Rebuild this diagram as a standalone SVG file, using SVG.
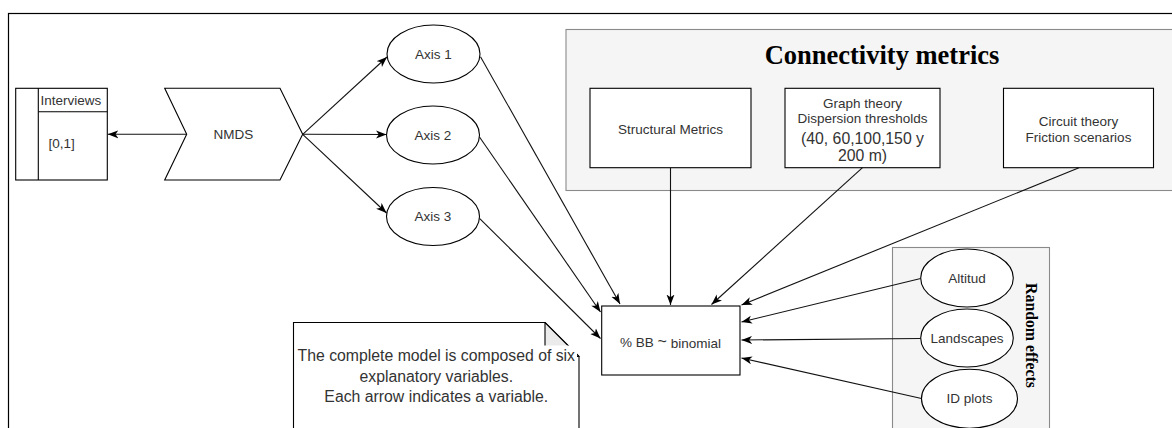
<svg xmlns="http://www.w3.org/2000/svg" width="1172" height="428" viewBox="0 0 1172 428">
<defs>
<marker id="arr" markerUnits="userSpaceOnUse" markerWidth="11" markerHeight="9" viewBox="0 0 11 9" refX="10.5" refY="4.5" orient="auto">
<path d="M0,0.5 L10.5,4.5 L0,8.5 L2.8,4.5 Z" fill="#000"/>
</marker>
<style>
.sh{fill:#fff;stroke:#000;stroke-width:1.1}
.grp{fill:#f5f5f5;stroke:#8a8a8a;stroke-width:1.1}
.t{font-family:"Liberation Sans",Arial,sans-serif;font-size:13.5px;fill:#333;text-anchor:middle;dominant-baseline:central}
.tl{font-size:15.8px}
.ser{font-family:"Liberation Serif","Times New Roman",serif;font-weight:bold;fill:#000;text-anchor:middle;dominant-baseline:central}
.c{fill:none;stroke:#111;stroke-width:1.1;marker-end:url(#arr)}
</style>
</defs>
<rect x="8.5" y="13.5" width="1200" height="500" fill="#fff" stroke="#000" stroke-width="1.2"/>

<g id="connectivity-group">
<rect class="grp" x="566" y="29.5" width="640" height="161"/>
<text class="ser" x="882" y="55" font-size="26.5">Connectivity metrics</text>
</g>
<g id="random-group">
<rect class="grp" x="892.5" y="247.5" width="157" height="200"/>
<text class="ser" font-size="15.8" transform="translate(1031.5,335.5) rotate(90)" x="0" y="0">Random effects</text>
</g>

<g id="interviews">
<rect class="sh" x="15.7" y="88.3" width="91.6" height="91.7"/>
<line x1="38.3" y1="88.3" x2="38.3" y2="180" stroke="#000" stroke-width="1.1"/>
<line x1="38.3" y1="111.7" x2="107.3" y2="111.7" stroke="#000" stroke-width="1.1"/>
<text class="t" x="40.5" y="100.5" style="text-anchor:start">Interviews</text>
<text class="t" x="48.5" y="143" style="text-anchor:start">[0,1]</text>
</g>

<g id="nmds">
<path class="sh" d="M164.7,88.3 L280,88.3 L302.7,134.3 L280,180 L164.7,180 L186.7,134.3 Z"/>
<text class="t" x="233.3" y="134.3">NMDS</text>
</g>

<g id="axis1"><ellipse class="sh" cx="433.5" cy="54" rx="46.5" ry="29"/><text class="t" x="433.5" y="54">Axis 1</text></g>
<g id="axis2"><ellipse class="sh" cx="433" cy="135" rx="46.5" ry="29"/><text class="t" x="433" y="135">Axis 2</text></g>
<g id="axis3"><ellipse class="sh" cx="433" cy="216.5" rx="46.5" ry="29"/><text class="t" x="433" y="216.5">Axis 3</text></g>

<g id="structural">
<rect class="sh" x="590" y="88.3" width="161" height="79.4"/>
<text class="t" x="670.5" y="129.3">Structural Metrics</text>
</g>
<g id="graph-theory">
<rect class="sh" x="785" y="88.3" width="155" height="79.4"/>
<text class="t" x="862.5" y="103.3">Graph theory</text>
<text class="t" x="862.5" y="118.3">Dispersion thresholds</text>
<text class="t tl" x="862.5" y="138.5">(40, 60,100,150 y</text>
<text class="t tl" x="862.5" y="155.5">200 m)</text>
</g>
<g id="circuit-theory">
<rect class="sh" x="1003.5" y="88.3" width="150" height="79.4"/>
<text class="t" x="1078.5" y="121.7">Circuit theory</text>
<text class="t" x="1078.5" y="137.3">Friction scenarios</text>
</g>

<g id="model">
<rect class="sh" x="601.7" y="306" width="138.3" height="69"/>
<text class="t" x="670.5" y="342.7">% BB <tspan font-size="16" dy="-1.5">~</tspan><tspan dy="1.5"> binomial</tspan></text>
</g>

<g id="note">
<path class="sh" d="M293.5,322.5 H545 L579,356.5 V445 H293.5 Z"/>
<path d="M545,322.5 V356.5 H579 Z" fill="#ebebeb" stroke="#000" stroke-width="1.1" stroke-linejoin="round"/>
<rect x="295" y="345.5" width="282" height="60" fill="#fff"/>
<text class="t tl" x="436.3" y="355">The complete model is composed of six</text>
<text class="t tl" x="436.3" y="376">explanatory variables.</text>
<text class="t tl" x="436.3" y="396">Each arrow indicates a variable.</text>
</g>

<g id="altitud"><ellipse class="sh" cx="967" cy="278" rx="46.3" ry="29"/><text class="t" x="967" y="278">Altitud</text></g>
<g id="landscapes"><ellipse class="sh" cx="967" cy="338" rx="46.3" ry="29"/><text class="t" x="967" y="338">Landscapes</text></g>
<g id="id-plots"><ellipse class="sh" cx="969.5" cy="398.7" rx="48" ry="29.5"/><text class="t" x="969.5" y="398.7">ID plots</text></g>

<g id="connectors">
<line class="c" x1="186.7" y1="134.3" x2="107.8" y2="134.3"/>
<line class="c" x1="302.7" y1="134.3" x2="387" y2="57"/>
<line class="c" x1="302.7" y1="134.3" x2="386.5" y2="134.5"/>
<line class="c" x1="302.7" y1="134.3" x2="386.5" y2="213"/>
<line class="c" x1="480.5" y1="56.7" x2="620" y2="304"/>
<line class="c" x1="479.5" y1="137" x2="600.5" y2="312"/>
<line class="c" x1="479.5" y1="218.3" x2="600.5" y2="338.5"/>
<line class="c" x1="670.5" y1="167.7" x2="670.5" y2="305"/>
<line class="c" x1="862.5" y1="167.7" x2="711.5" y2="304.5"/>
<line class="c" x1="1079" y1="167.7" x2="741.5" y2="305"/>
<line class="c" x1="920.7" y1="278.5" x2="741.5" y2="322"/>
<line class="c" x1="920.7" y1="338.5" x2="741.5" y2="340"/>
<line class="c" x1="921.5" y1="398.5" x2="741.5" y2="358"/>
</g>
</svg>
